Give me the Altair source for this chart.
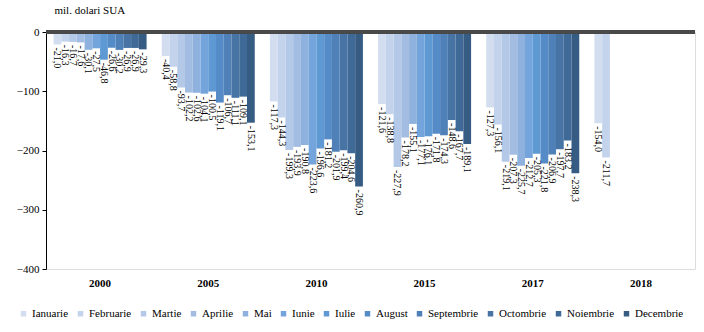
import altair as alt
import pandas as pd

years = ["2000", "2005", "2010", "2015", "2017", "2018"]
months = ["Ianuarie", "Februarie", "Martie", "Aprilie", "Mai", "Iunie", "Iulie",
          "August", "Septembrie", "Octombrie", "Noiembrie", "Decembrie"]

v2000 = [-21.0, -16.3, -16.7, -17.6, -30.1, -27.5, -46.8, -26.6, -30.2, -26.9, -26.9, -29.3]
v2005 = [-40.4, -58.8, -93.7, -102.2, -102.6, -104.1, -100.5, -119.1, -106.7, -111.1, -109.1, -153.1]
v2010 = [-117.3, -144.3, -199.3, -193.9, -190.8, -223.6, -196.6, -181.2, -201.9, -199.4, -204.6, -260.9]
v2015 = [-121.6, -138.8, -227.9, -178.2, -155.1, -177.1, -176.1, -171.8, -174.3, -148.6, -167.7, -189.1]
v2017 = [-127.3, -156.1, -219.1, -207.3, -225.7, -212.7, -205.3, -221.8, -206.9, -197.7, -183.2, -238.3]
v2018 = [-154.0, -211.7]

colors = ["#d2ddef", "#c3d3ec", "#b4c9e7", "#a3bde2", "#8fb1de", "#73a4dc",
          "#5f99d3", "#558bc6", "#4f80b8", "#4774a4", "#3f6a97", "#375c84"]

series = [v2000, v2005, v2010, v2015, v2017, v2018]
rows = []
for y, vals in zip(years, series):
    for m, v in zip(months, vals):
        rows.append({"An": y, "Luna": m, "Valoare": v,
                     "Eticheta": f"{v:.1f}".replace(".", ",")})
df = pd.DataFrame(rows)

FONT = "'Liberation Serif', 'Times New Roman', Times, serif"

x_enc = alt.X("An:N", sort=years,
              scale=alt.Scale(paddingInner=0.14, paddingOuter=0.07),
              axis=alt.Axis(title=None, labelAngle=0, labelFont=FONT, labelFontSize=11,
                            labelFontWeight="bold", labelColor="#000", labelPadding=8,
                            domain=False, ticks=False))
xo_enc = alt.XOffset("Luna:N", sort=months, scale=alt.Scale(paddingInner=0, paddingOuter=0))
y_enc = alt.Y("Valoare:Q",
              scale=alt.Scale(domain=[-400, 0], nice=False),
              axis=alt.Axis(title="mil. dolari SUA", titleAngle=0, titleX=8, titleY=-22,
                            titleAlign="left", titleBaseline="middle", titleFont=FONT,
                            titleFontSize=11, titleFontWeight="normal", titleColor="#000",
                            values=list(range(-400, 1, 50)), labelFont=FONT, labelFontSize=11,
                            labelColor="#000", labelPadding=3, tickSize=4, tickColor="#000",
                            domainColor="#000", grid=False))

base = alt.Chart(df)

bars = base.mark_bar(stroke=None).encode(
    x=x_enc, xOffset=xo_enc, y=y_enc,
    color=alt.Color("Luna:N", sort=months,
                    scale=alt.Scale(domain=months, range=colors),
                    legend=alt.Legend(title=None, orient="none", legendX=-28, legendY=276,
                                      direction="horizontal", columns=12,
                                      symbolType="square", symbolSize=30, symbolStrokeWidth=0,
                                      labelFont=FONT, labelFontSize=11, labelColor="#000",
                                      labelOffset=3, columnPadding=6))
)

labels = base.mark_text(angle=90, align="left", baseline="middle", dx=3,
                        font=FONT, fontSize=10, color="#000").encode(
    x=x_enc, xOffset=xo_enc, y=y_enc, text="Eticheta:N"
)

zero = alt.Chart(df).mark_rule(color="#4a4a4a", strokeWidth=2.5).encode(y=alt.datum(0))

chart = alt.layer(bars, labels, zero).properties(
    width=649, height=237,
    autosize=alt.AutoSizeParams(type="none"),
    padding={"left": 46, "top": 32, "right": 9, "bottom": 63},
).configure_view(stroke=None).configure(background="white", font=FONT)

chart.save("out.html", embed_options={"renderer": "svg", "actions": False})
